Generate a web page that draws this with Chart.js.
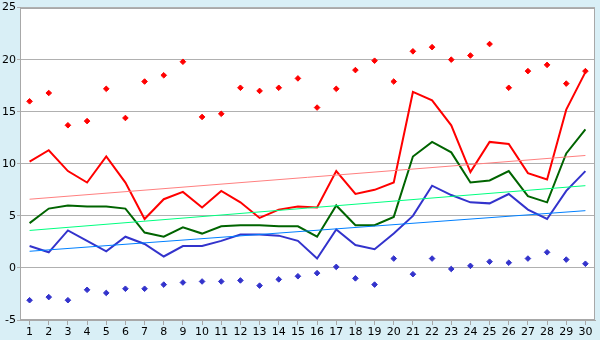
<!DOCTYPE html>
<html>
<head>
<meta charset="utf-8">
<script src="https://cdn.jsdelivr.net/npm/chart.js@4/dist/chart.umd.min.js"></script>
<style>
html,body{margin:0;padding:0;background:#d9eff6;}
#wrap{width:600px;height:340px;position:relative;}
</style>
</head>
<body>
<div id="wrap"><canvas id="c" width="600" height="340"></canvas></div>
<script>
const categories = ["1","2","3","4","5","6","7","8","9","10","11","12","13","14","15","16","17","18","19","20","21","22","23","24","25","26","27","28","29","30"];
const maxPoints = [16.0,16.8,13.7,14.1,17.2,14.4,17.9,18.5,19.8,14.5,14.8,17.3,17.0,17.3,18.2,15.4,17.2,19.0,19.9,17.9,20.8,21.2,20.0,20.4,21.5,17.3,18.9,19.5,17.7,18.9];
const minPoints = [-3.1,-2.8,-3.1,-2.1,-2.4,-2.0,-2.0,-1.6,-1.4,-1.3,-1.3,-1.2,-1.7,-1.1,-0.8,-0.5,0.1,-1.0,-1.6,0.9,-0.6,0.9,-0.1,0.2,0.6,0.5,0.9,1.5,0.8,0.4];
const redLine = [10.2,11.3,9.3,8.2,10.7,8.2,4.7,6.6,7.3,5.8,7.4,6.3,4.8,5.6,5.9,5.8,9.3,7.1,7.5,8.2,16.9,16.1,13.7,9.2,12.1,11.9,9.1,8.5,15.2,18.8];
const greenLine = [4.3,5.7,6.0,5.9,5.9,5.7,3.4,3.0,3.9,3.3,4.0,4.1,4.1,4.0,4.0,3.0,6.0,4.1,4.1,4.9,10.7,12.1,11.1,8.2,8.4,9.3,6.9,6.3,11.0,13.3];
const blueLine = [2.1,1.5,3.6,2.6,1.6,3.0,2.3,1.1,2.1,2.1,2.6,3.2,3.2,3.1,2.6,0.9,3.7,2.2,1.8,3.3,5.0,7.9,7.0,6.3,6.2,7.1,5.6,4.7,7.4,9.3];
const trendRed = [6.6,10.8];
const trendGreen = [3.6,7.9];
const trendBlue = [1.6,5.5];
const yTicks = [-5,0,5,10,15,20,25];

function trend(vals){
  return [{x:categories[0],y:vals[0]},{x:categories[categories.length-1],y:vals[1]}];
}

const bgPlugin = {
  id:'bg',
  beforeDraw(chart){
    const ctx=chart.ctx, a=chart.chartArea;
    ctx.save();
    ctx.fillStyle='#d9eff6';
    ctx.fillRect(0,0,chart.width,chart.height);
    ctx.fillStyle='#ffffff';
    ctx.fillRect(a.left,a.top,a.right-a.left,a.bottom-a.top);
    ctx.restore();
  },
  afterDraw(chart){
    const ctx=chart.ctx, a=chart.chartArea;
    ctx.save();
    ctx.strokeStyle='#a8a8a8';
    ctx.lineWidth=1;
    ctx.strokeRect(Math.round(a.left)+0.5,Math.round(a.top)+0.5,Math.round(a.right-a.left)-1,Math.round(a.bottom-a.top)-1);
    ctx.restore();
  }
};

const lineDs = (data,color,w)=>({data,borderColor:color,backgroundColor:color,borderWidth:w,pointRadius:0,tension:0,fill:false});
const ptDs = (data,color)=>({data,showLine:false,pointStyle:'rectRot',pointRadius:2.8,pointBorderWidth:1,borderColor:color,backgroundColor:color});

new Chart(document.getElementById('c'),{
  type:'line',
  data:{
    labels:categories,
    datasets:[
      lineDs(trend(trendRed),'#ff8080',1),
      lineDs(trend(trendGreen),'#00ff80',1),
      lineDs(trend(trendBlue),'#0080ff',1),
      lineDs(redLine,'#ff0000',2),
      lineDs(greenLine,'#006400',2),
      lineDs(blueLine,'#3333cc',2),
      ptDs(maxPoints,'#ff0000'),
      ptDs(minPoints,'#3333cc')
    ]
  },
  options:{
    responsive:false,
    animation:false,
    devicePixelRatio:1,
    layout:{padding:{top:5,right:5,left:0,bottom:0}},
    plugins:{legend:{display:false},tooltip:{enabled:false}},
    scales:{
      x:{
        offset:true,
        grid:{display:true,drawOnChartArea:false,drawTicks:true,tickLength:5,color:'#a8a8a8',offset:false},
        border:{color:'#a8a8a8'},
        ticks:{color:'#000',font:{family:'DejaVu Sans',size:11},maxRotation:0,autoSkip:false,padding:1},
        afterFit(s){s.height=20;}
      },
      y:{
        min:-5,max:25,
        afterBuildTicks(s){s.ticks=yTicks.map(v=>({value:v}));},
        grid:{color:'#b0b0b0',tickLength:3},
        border:{color:'#a8a8a8'},
        ticks:{color:'#000',font:{family:'DejaVu Sans',size:11},padding:1},
        afterFit(s){s.width=20;}
      }
    }
  },
  plugins:[bgPlugin]
});
</script>
</body>
</html>
